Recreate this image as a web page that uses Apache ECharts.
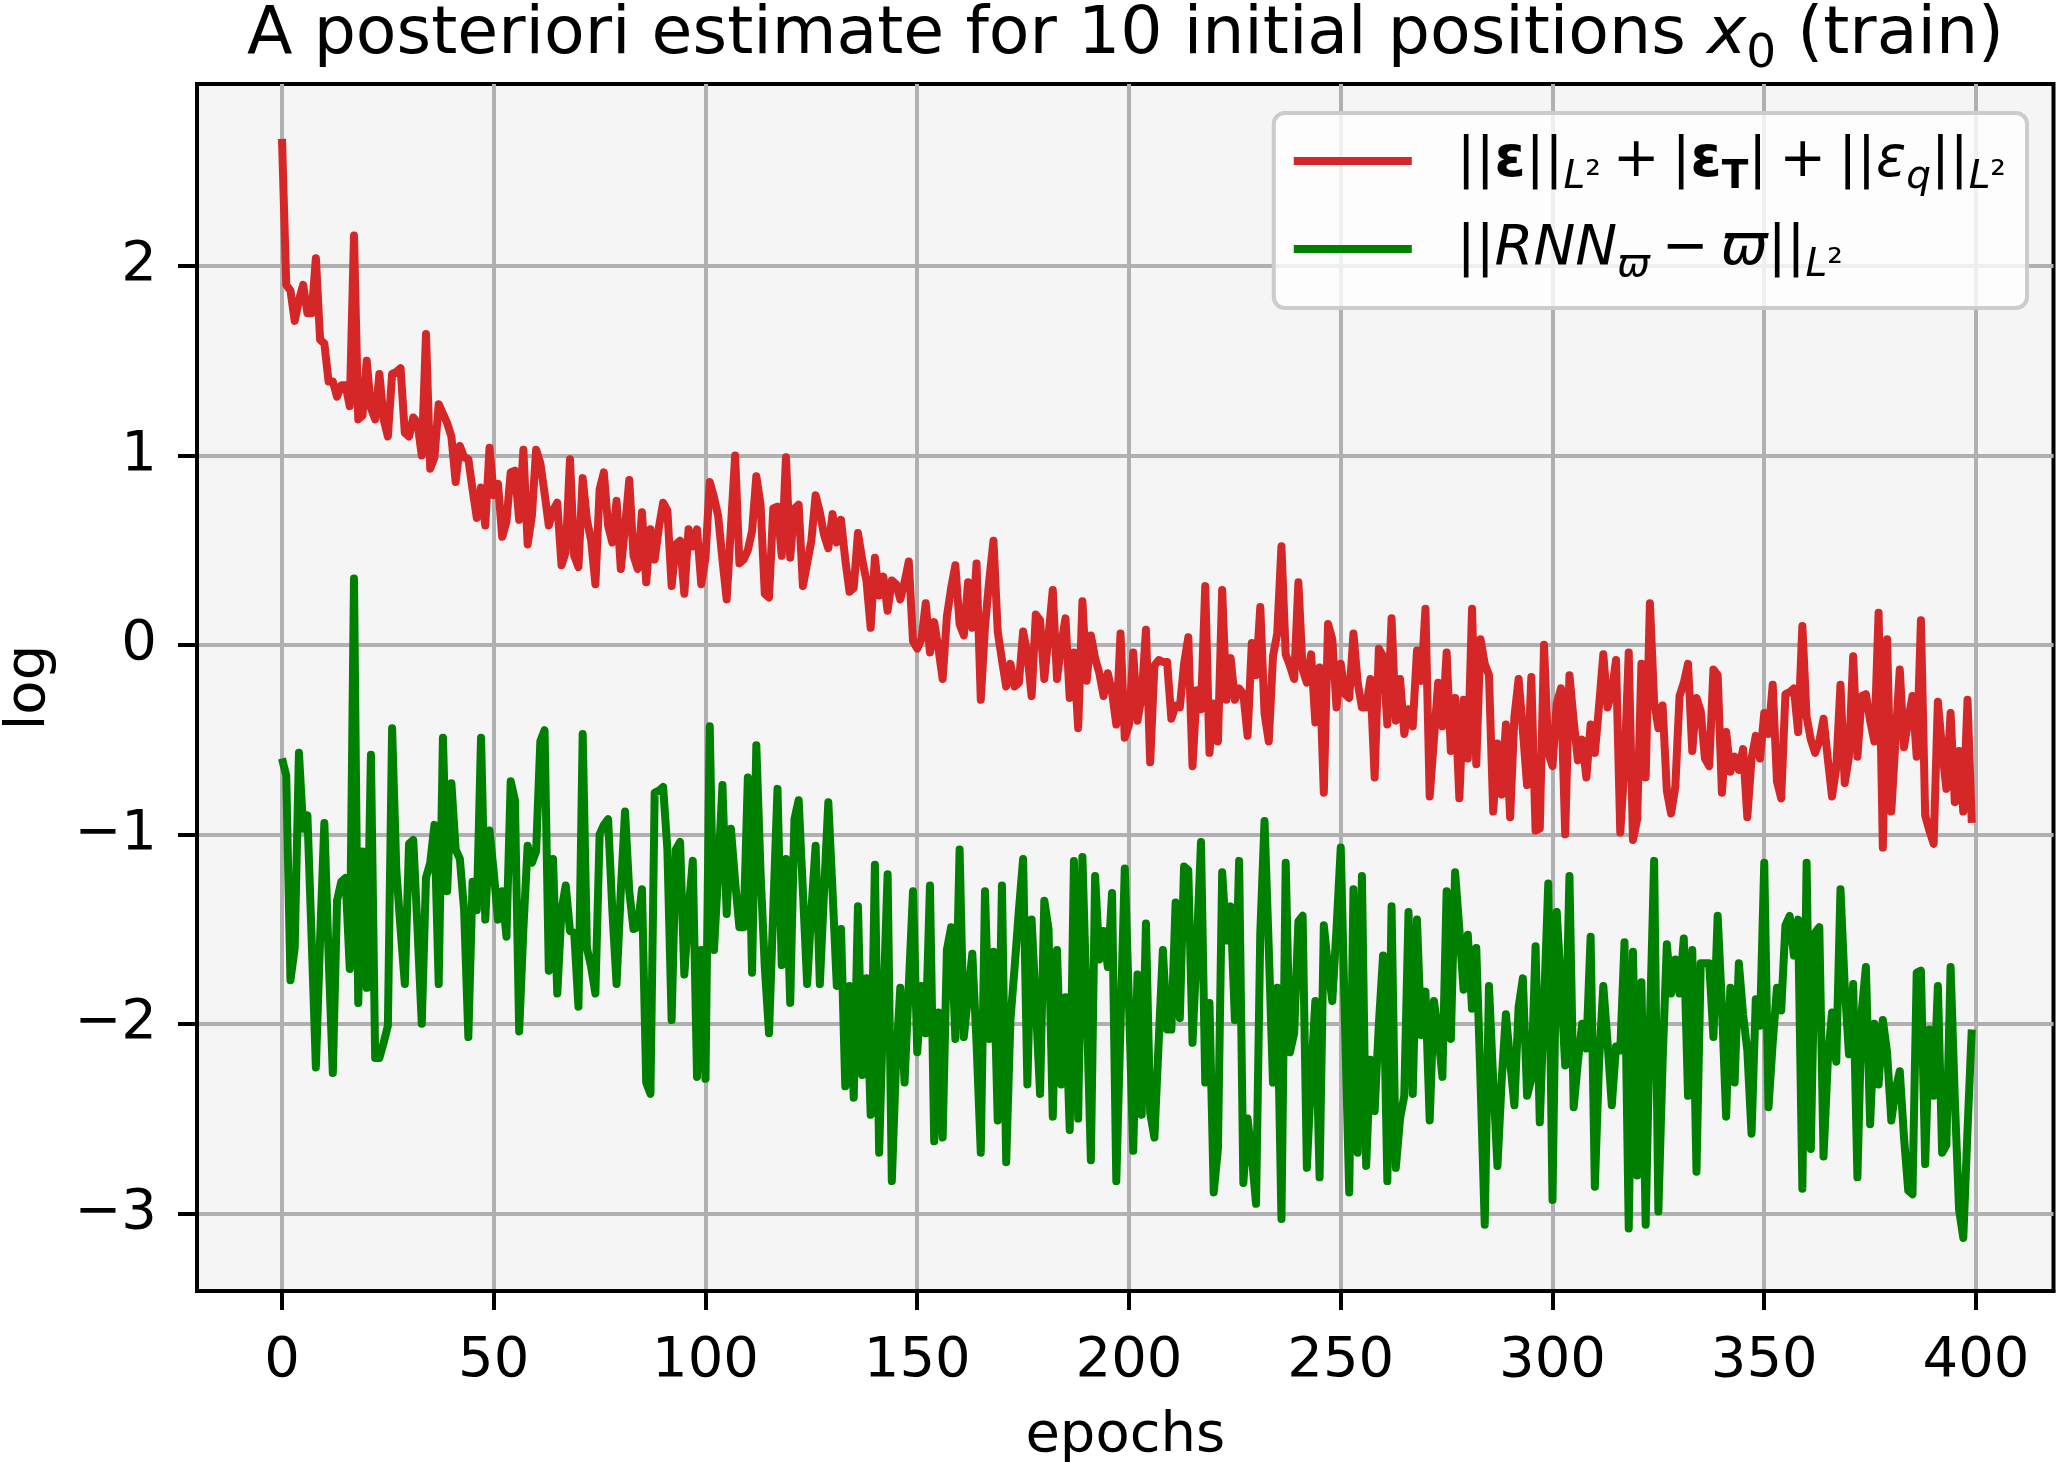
<!DOCTYPE html>
<html><head><meta charset="utf-8">
<script src="https://cdn.jsdelivr.net/npm/echarts@6/dist/echarts.min.js"></script>
<style>html,body{margin:0;padding:0;background:#fff}#c{width:2056px;height:1462px}</style>
</head><body><div id="c"></div>
<script>
// x positions (epoch index 0..399)
const epochs = Array.from({length: 400}, (_, i) => i);

// ||eps||_L2 + |eps_T| + ||eps_q||_L2  (log)
const errTotal = [
 2.67, 1.90, 1.87, 1.71, 1.82, 1.90, 1.75, 1.75, 2.04, 1.61,
 1.59, 1.39, 1.39, 1.31, 1.37, 1.37, 1.26, 2.16, 1.19, 1.21,
 1.50, 1.25, 1.19, 1.43, 1.19, 1.10, 1.43, 1.44, 1.46, 1.12,
 1.10, 1.20, 1.17, 1.00, 1.64, 0.93, 0.99, 1.27, 1.22, 1.17,
 1.10, 0.86, 1.05, 0.99, 0.98, 0.82, 0.67, 0.83, 0.63, 1.04,
 0.79, 0.85, 0.57, 0.65, 0.91, 0.92, 0.66, 1.03, 0.53, 0.68,
 1.03, 0.96, 0.80, 0.63, 0.71, 0.75, 0.42, 0.49, 0.98, 0.47,
 0.41, 0.88, 0.66, 0.55, 0.32, 0.82, 0.91, 0.63, 0.54, 0.76,
 0.40, 0.62, 0.87, 0.47, 0.40, 0.70, 0.33, 0.61, 0.45, 0.62,
 0.75, 0.71, 0.31, 0.53, 0.55, 0.27, 0.61, 0.52, 0.61, 0.32,
 0.46, 0.86, 0.78, 0.68, 0.45, 0.24, 0.62, 1.00, 0.43, 0.45,
 0.50, 0.60, 0.89, 0.74, 0.27, 0.25, 0.72, 0.73, 0.47, 0.99,
 0.46, 0.72, 0.74, 0.31, 0.43, 0.55, 0.79, 0.70, 0.58, 0.51,
 0.69, 0.54, 0.66, 0.45, 0.28, 0.30, 0.59, 0.45, 0.34, 0.09,
 0.46, 0.26, 0.36, 0.18, 0.34, 0.32, 0.24, 0.33, 0.44, 0.02,
 -0.02, 0.03, 0.22, -0.04, 0.12, -0.02, -0.18, 0.15, 0.30, 0.42,
 0.11, 0.05, 0.33, 0.09, 0.43, -0.29, 0.10, 0.34, 0.55, 0.07,
 -0.08, -0.22, -0.10, -0.22, -0.20, 0.07, -0.05, -0.27, 0.16, 0.13,
 -0.18, 0.05, 0.29, -0.18, 0.00, 0.14, -0.28, -0.04, -0.44, 0.23,
 -0.19, 0.05, -0.07, -0.15, -0.27, -0.15, -0.25, -0.42, 0.06, -0.49,
 -0.42, -0.04, -0.40, -0.27, 0.08, -0.62, -0.11, -0.08, -0.09, -0.09,
 -0.39, -0.32, -0.33, -0.10, 0.04, -0.64, -0.24, -0.34, 0.31, -0.57,
 -0.31, -0.51, 0.29, -0.29, -0.07, -0.29, -0.23, -0.26, -0.48, 0.01,
 -0.16, 0.20, -0.36, -0.51, -0.06, 0.06, 0.52, -0.05, -0.11, -0.18,
 0.33, -0.13, -0.20, -0.05, -0.41, -0.12, -0.78, 0.11, 0.03, -0.33,
 -0.10, -0.26, -0.28, 0.06, -0.20, -0.33, -0.33, -0.18, -0.70, -0.02,
 -0.06, -0.42, 0.14, -0.40, -0.18, -0.47, -0.34, -0.43, -0.03, -0.19,
 0.19, -0.80, -0.50, -0.20, -0.43, -0.04, -0.56, -0.28, -0.81, -0.29,
 -0.60, 0.19, -0.63, 0.03, -0.10, -0.16, -0.88, -0.52, -0.79, -0.42,
 -0.91, -0.38, -0.18, -0.45, -0.74, -0.17, -0.98, -0.97, 0.00, -0.57,
 -0.64, -0.31, -0.23, -1.00, -0.16, -0.40, -0.61, -0.50, -0.70, -0.42,
 -0.57, -0.32, -0.05, -0.33, -0.25, -0.08, -0.99, -0.64, -0.04, -1.03,
 -0.92, -0.10, -0.70, 0.22, -0.30, -0.44, -0.32, -0.77, -0.89, -0.75,
 -0.27, -0.20, -0.10, -0.56, -0.28, -0.35, -0.60, -0.64, -0.13, -0.16,
 -0.78, -0.46, -0.67, -0.59, -0.66, -0.55, -0.91, -0.60, -0.48, -0.60,
 -0.36, -0.47, -0.21, -0.72, -0.81, -0.26, -0.25, -0.23, -0.46, 0.10,
 -0.38, -0.50, -0.57, -0.51, -0.39, -0.60, -0.80, -0.65, -0.21, -0.73,
 -0.59, -0.06, -0.59, -0.27, -0.26, -0.40, -0.51, 0.17, -1.07, 0.03,
 -0.88, -0.50, -0.13, -0.54, -0.40, -0.27, -0.59, 0.13, -0.90, -0.98,
 -1.05, -0.30, -0.55, -0.76, -0.36, -0.83, -0.56, -0.88, -0.29, -0.94
];

// ||RNN_varpi - varpi||_L2  (log)
const rnnErr = [
 -0.60, -0.69, -1.77, -1.60, -0.57, -0.97, -0.90, -1.55, -2.23, -1.55,
 -0.94, -1.64, -2.26, -1.35, -1.25, -1.23, -1.71, 0.35, -1.89, -1.09,
 -1.81, -0.58, -2.18, -2.18, -2.10, -2.01, -0.44, -1.19, -1.50, -1.79,
 -1.05, -1.03, -1.50, -2.00, -1.23, -1.15, -0.95, -1.79, -0.49, -1.30,
 -0.73, -1.08, -1.13, -1.40, -2.07, -1.25, -1.40, -0.49, -1.45, -0.98,
 -1.20, -1.45, -1.30, -1.54, -0.72, -0.82, -2.04, -1.50, -1.06, -1.15,
 -1.09, -0.51, -0.45, -1.72, -1.13, -1.84, -1.40, -1.27, -1.51, -1.52,
 -1.91, -0.47, -1.60, -1.70, -1.84, -1.00, -0.95, -0.92, -1.40, -1.79,
 -1.30, -0.88, -1.30, -1.50, -1.49, -1.29, -2.31, -2.37, -0.78, -0.77,
 -0.75, -1.08, -1.98, -1.08, -1.04, -1.74, -1.40, -1.14, -2.28, -1.61,
 -2.29, -0.43, -1.61, -1.20, -0.74, -1.42, -0.97, -1.25, -1.49, -1.49,
 -0.70, -1.73, -0.53, -1.20, -1.70, -2.05, -1.40, -0.76, -1.69, -1.13,
 -1.89, -0.92, -0.82, -1.30, -1.79, -1.40, -1.06, -1.79, -1.30, -0.83,
 -1.30, -1.80, -1.50, -2.33, -1.80, -2.39, -1.38, -2.27, -1.76, -2.48,
 -1.16, -2.68, -1.90, -1.21, -2.83, -2.20, -1.81, -2.31, -1.80, -1.30,
 -2.15, -1.80, -2.05, -1.27, -2.62, -1.94, -2.60, -1.61, -1.49, -2.08,
 -1.08, -2.07, -1.85, -1.63, -2.10, -2.68, -1.30, -2.08, -1.62, -2.51,
 -1.27, -2.73, -1.98, -1.70, -1.40, -1.13, -2.32, -1.45, -1.90, -2.37,
 -1.35, -1.50, -2.49, -1.61, -2.32, -1.86, -2.56, -1.14, -2.50, -1.12,
 -1.90, -2.72, -1.22, -1.66, -1.51, -1.70, -1.31, -2.83, -2.00, -1.18,
 -1.90, -2.67, -1.74, -2.48, -1.47, -2.47, -2.60, -2.10, -1.61, -2.03,
 -2.03, -1.36, -1.97, -1.17, -1.19, -2.10, -1.60, -1.04, -2.31, -1.89,
 -2.89, -2.66, -1.20, -1.56, -1.38, -1.98, -1.14, -2.84, -2.50, -2.70,
 -2.95, -1.52, -0.93, -1.60, -2.31, -1.81, -3.03, -1.15, -2.15, -2.05,
 -1.46, -1.43, -2.76, -2.28, -1.88, -2.81, -1.48, -1.70, -1.88, -1.50,
 -1.07, -2.00, -2.89, -1.29, -2.68, -1.22, -2.75, -2.19, -2.46, -2.00,
 -1.64, -2.83, -1.38, -2.76, -2.50, -2.38, -1.41, -2.37, -1.45, -2.06,
 -1.83, -2.51, -1.88, -2.05, -2.28, -1.30, -2.08, -1.20, -1.50, -1.82,
 -1.53, -1.92, -1.60, -2.30, -3.06, -1.80, -2.30, -2.75, -2.30, -1.95,
 -2.20, -2.43, -1.91, -1.76, -2.38, -2.29, -1.59, -2.52, -1.90, -1.26,
 -2.93, -1.41, -1.80, -2.22, -1.22, -2.44, -2.20, -2.00, -2.13, -1.54,
 -2.86, -2.20, -1.80, -2.10, -2.43, -2.12, -2.14, -1.57, -3.08, -1.62,
 -2.80, -1.78, -3.06, -2.00, -1.14, -2.99, -2.20, -1.58, -1.84, -1.66,
 -1.84, -1.55, -2.38, -1.61, -2.78, -1.68, -1.68, -1.68, -2.07, -1.43,
 -1.90, -2.49, -1.81, -2.31, -1.68, -1.95, -2.14, -2.58, -1.87, -2.01,
 -1.15, -2.44, -2.10, -1.81, -1.93, -1.48, -1.43, -1.64, -1.45, -2.87,
 -1.15, -2.66, -1.52, -1.49, -2.70, -2.20, -1.94, -2.20, -1.29, -1.80,
 -2.16, -1.79, -2.81, -1.94, -1.70, -2.53, -2.00, -2.32, -1.98, -2.15,
 -2.51, -2.35, -2.25, -2.60, -2.88, -2.90, -1.73, -1.72, -2.74, -2.03,
 -2.38, -1.80, -2.68, -2.64, -1.70, -2.40, -2.98, -3.13, -2.56, -2.03
];

const xTicks = [0, 50, 100, 150, 200, 250, 300, 350, 400];
const yTicks = [-3, -2, -1, 0, 1, 2];

const seriesNames = ['||ε||L² + |εT| + ||εq||L²', '||RNNϖ − ϖ||L²'];
const seriesColors = ['#d62728', '#008000'];

const F = 'DejaVu Sans';
const FS = 56;
const legendRich = {
  sp: {width: 40, fontSize: FS, lineHeight: 72},
  g: {width: 12, fontSize: FS, lineHeight: 72},
  n: {fontFamily: F, fontSize: FS, lineHeight: 72, color: '#000'},
  b: {fontFamily: F, fontSize: FS, lineHeight: 72, fontWeight: 'bold', color: '#000'},
  i: {fontFamily: F, fontSize: FS, lineHeight: 72, fontStyle: 'italic', color: '#000'},
  bs: {fontFamily: F, fontSize: 39, lineHeight: 39, fontWeight: 'bold', verticalAlign: 'bottom', color: '#000'},
  is: {fontFamily: F, fontSize: 39, lineHeight: 39, fontStyle: 'italic', verticalAlign: 'bottom', color: '#000'},
  ns: {fontFamily: F, fontSize: 39, lineHeight: 39, verticalAlign: 'bottom', color: '#000'}
};
const legendLabels = {};
legendLabels[seriesNames[0]] = '{sp| }{n|||}{b|ε}{n|||}{is|L}{ns|²}{g| }{n|+}{g| }{n||}{b|ε}{bs|T}{n||}{g| }{n|+}{g| }{n|||}{i|ε}{is|q}{n|||}{is|L}{ns|²}';
legendLabels[seriesNames[1]] = '{sp| }{n|||}{i|RNN}{is|ϖ}{g| }{n|−}{g| }{i|ϖ}{n|||}{is|L}{ns|²}';

const chart = echarts.init(document.getElementById('c'), null, {renderer: 'canvas'});
const option = {
  animation: false,
  backgroundColor: '#ffffff',
  graphic: [{
    type: 'text', x: 1125.5, y: 36, z: 10,
    style: {
      text: '{n|A posteriori estimate for 10 initial positions }{i|x}{s|0}{n| (train)}',
      align: 'center', verticalAlign: 'middle',
      rich: {
        n: {fontFamily: F, fontSize: 66.5, lineHeight: 84, fill: '#000'},
        i: {fontFamily: F, fontSize: 66.5, lineHeight: 84, fontStyle: 'italic', fill: '#000'},
        s: {fontFamily: F, fontSize: 47, lineHeight: 47, verticalAlign: 'bottom', fill: '#000'}
      }
    }
  }],
  grid: {
    left: 197, top: 84, width: 1856.5, height: 1207,
    show: true, backgroundColor: '#f5f5f5', borderColor: '#000', borderWidth: 4,
    containLabel: false, outerBoundsMode: 'none'
  },
  legend: {
    orient: 'vertical', align: 'left',
    right: 29, top: 113,
    padding: [20, 21, 23, 20],
    itemGap: 24, itemWidth: 118, itemHeight: 8,
    icon: 'rect',
    backgroundColor: 'rgba(255,255,255,0.8)',
    borderColor: '#cccccc', borderWidth: 4, borderRadius: 11,
    data: seriesNames,
    formatter: name => legendLabels[name],
    textStyle: {fontFamily: F, fontSize: FS, color: '#000', rich: legendRich}
  },
  xAxis: {
    type: 'value', min: -20.07, max: 418.3,
    name: 'epochs', nameLocation: 'middle', nameGap: 117,
    nameTextStyle: {fontFamily: F, fontSize: FS, color: '#000', lineHeight: 56},
    axisLine: {show: true, onZero: false, lineStyle: {color: '#000', width: 4}},
    axisTick: {show: true, inside: false, length: 19, customValues: xTicks, lineStyle: {color: '#000', width: 4}},
    axisLabel: {show: true, margin: 42, customValues: xTicks, fontFamily: F, fontSize: FS, color: '#000', lineHeight: 56},
    splitLine: {show: true, lineStyle: {color: '#b0b0b0', width: 4}}
  },
  yAxis: {
    type: 'value', min: -3.41, max: 2.96,
    name: 'log', nameLocation: 'middle', nameGap: 140, nameRotate: 90,
    nameTextStyle: {fontFamily: F, fontSize: FS, color: '#000', lineHeight: 56},
    axisLine: {show: true, onZero: false, lineStyle: {color: '#000', width: 4}},
    axisTick: {show: true, inside: false, length: 19, customValues: yTicks, lineStyle: {color: '#000', width: 4}},
    axisLabel: {show: true, margin: 40, customValues: yTicks, fontFamily: F, fontSize: FS, color: '#000',
      formatter: v => (v < 0 ? '\u2212' + Math.abs(v) : String(v))},
    splitLine: {show: true, lineStyle: {color: '#b0b0b0', width: 4}}
  },
  series: [
    {
      name: seriesNames[0], type: 'line', showSymbol: false, symbol: 'none',
      data: epochs.map((e, i) => [e, errTotal[i]]),
      color: seriesColors[0],
      lineStyle: {color: seriesColors[0], width: 8, join: 'round'},
      emphasis: {disabled: true}
    },
    {
      name: seriesNames[1], type: 'line', showSymbol: false, symbol: 'none',
      data: epochs.map((e, i) => [e, rnnErr[i]]),
      color: seriesColors[1],
      lineStyle: {color: seriesColors[1], width: 8, join: 'round'},
      emphasis: {disabled: true}
    }
  ]
};
chart.setOption(option);
</script>
</body></html>
